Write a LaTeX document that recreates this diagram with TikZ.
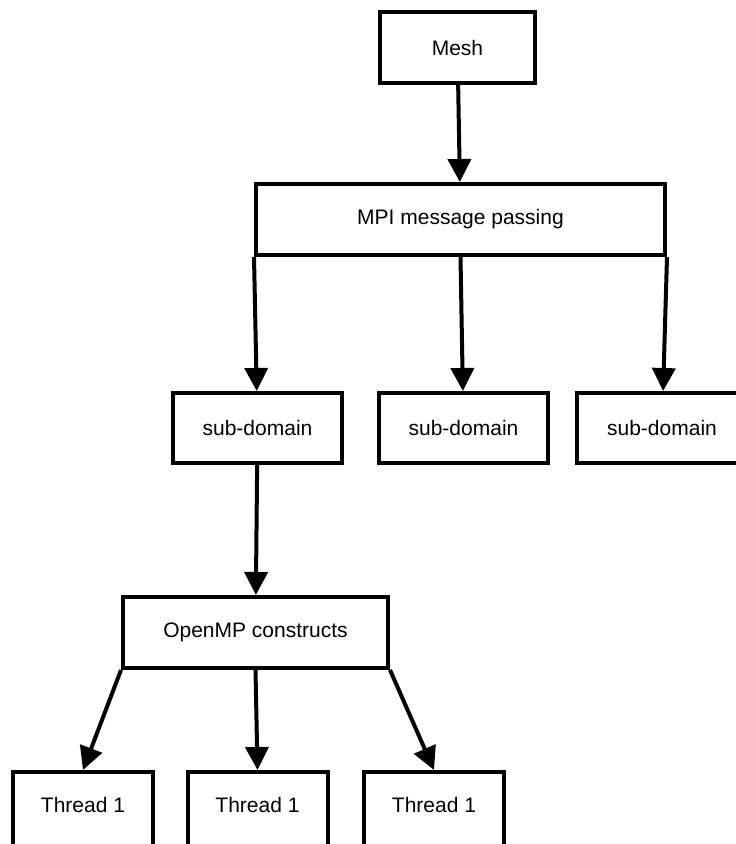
\documentclass[tikz,border=0pt]{standalone}
\usepackage{fontspec}
\setmainfont{Liberation Sans}
\usetikzlibrary{arrows.meta}
\tikzstyle{process}=[draw, line width=4pt, inner sep=0pt, font=\fontsize{21}{25}\selectfont]
\tikzstyle{thread}=[process, minimum width=140pt, minimum height=76pt, text depth=10pt]
\tikzstyle{flow}=[line width=4pt, -{Triangle[length=23pt,width=23pt]}]

\begin{document}
\begin{tikzpicture}[x=1pt, y=-1pt]
      \useasboundingbox (0,0) rectangle (736,844);
      \node[process, minimum width=155pt, minimum height=71pt] (mesh) at (457.5,47.5) {Mesh};
      \node[process, minimum width=409pt, minimum height=71pt] (mpi) at (460.5,219.5) {MPI message passing};
      \node[process, minimum width=169pt, minimum height=70pt] (sub1) at (257.5,428) {sub-domain};
      \node[process, minimum width=169pt, minimum height=70pt] (sub2) at (463.5,428) {sub-domain};
      \node[process, minimum width=170pt, minimum height=70pt] (sub3) at (662,428) {sub-domain};
      \node[process, minimum width=265pt, minimum height=71pt] (omp) at (255.5,632.5) {OpenMP constructs};
      \node[thread] (t1) at (83,810) {Thread 1};
      \node[thread] (t2) at (257.5,810) {Thread 1};
      \node[thread] (t3) at (434,810) {Thread 1};
      \draw[flow] (mesh) to (mpi);
      \draw[flow] (mpi.south west) to (sub1);
      \draw[flow] (mpi.south) to (sub2);
      \draw[flow] (mpi.south east) to (sub3);
      \draw[flow] (sub1) to (omp);
      \draw[flow] (omp.south west) to (t1.north);
      \draw[flow] (omp.south) to (t2.north);
      \draw[flow] (omp.south east) to (t3.north);
    \end{tikzpicture}
\end{document}
